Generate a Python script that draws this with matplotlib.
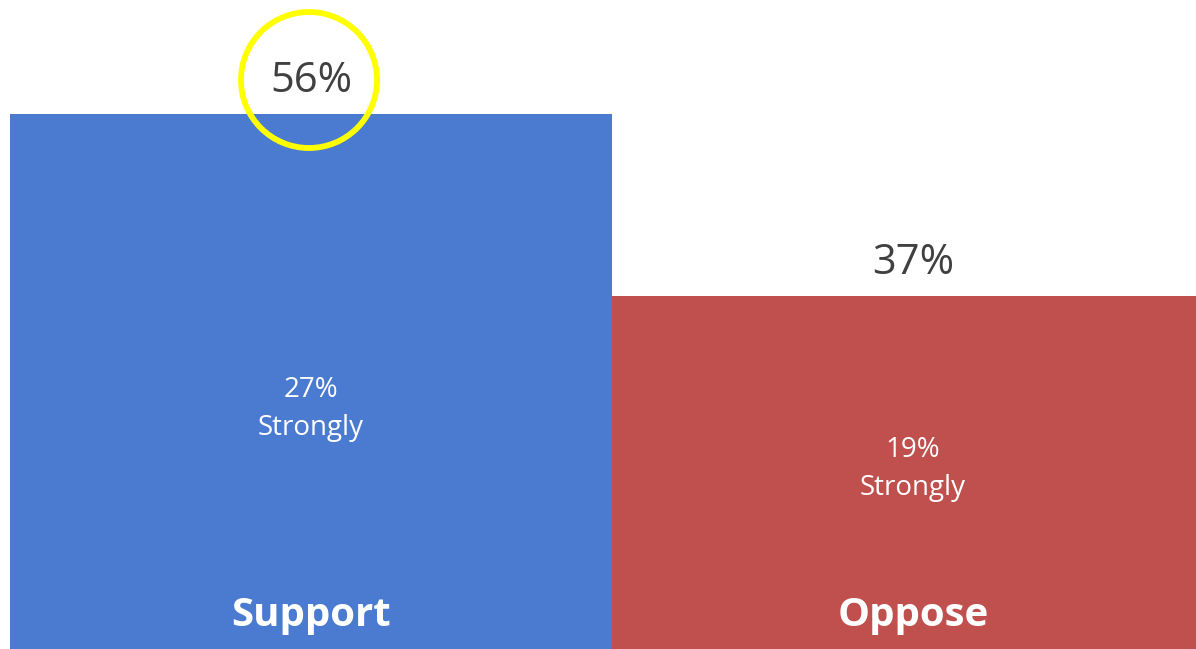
import matplotlib
matplotlib.use("Agg")
import matplotlib.pyplot as plt
from matplotlib.patches import Ellipse

categories = ["Support", "Oppose"]
totals = [56, 37]
strongly = [27, 19]
colors = ["#4A7BD0", "#C0504D"]

plt.rcParams['font.family'] = ['Open Sans', 'DejaVu Sans']

fig = plt.figure(figsize=(11.96, 6.49), dpi=100)
ax = fig.add_axes([0, 0, 1, 1])
x = list(range(len(categories)))
bars = ax.bar(x, totals, width=1.0, align='edge', color=colors, linewidth=0)
ax.set_xlim(-10 / 602, 1186 / 602)
ax.set_ylim(0, 649 / 9.554)
ax.axis('off')

mid_y = [25.1, 18.85]
for i, (c, t, s) in enumerate(zip(categories, totals, strongly)):
    cx = i + 0.5
    ax.text(cx, t + 3.4, f"{t}%", ha='center', va='center', fontsize=30, color='#404040')
    ax.text(cx, mid_y[i], f"{s}%\nStrongly", ha='center', va='center',
            fontsize=20, color='white', linespacing=1.45)
    ax.text(cx, 3.5, c, ha='center', va='center', fontsize=29, fontweight='bold', color='white')

circ = Ellipse((309 / 1196, 1 - 80 / 649), width=2 * 68 / 1196, height=2 * 68 / 649,
               transform=ax.transAxes, fill=False, edgecolor='#FFFF00', linewidth=4.2)
ax.add_patch(circ)

fig.savefig("out.png", dpi=100)
